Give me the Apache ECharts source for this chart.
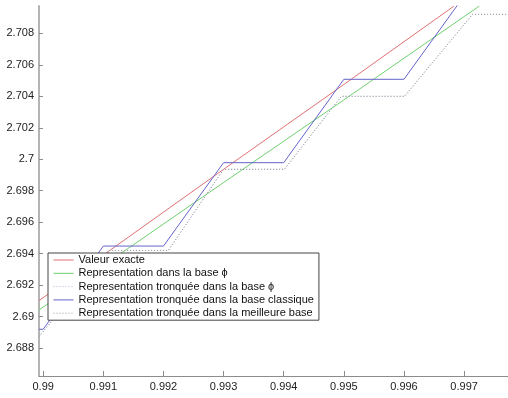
<!DOCTYPE html>
<html>
<head>
<meta charset="utf-8">
<script src="https://cdn.jsdelivr.net/npm/echarts@6/dist/echarts.min.js"></script>
<style>
  html, body { margin: 0; padding: 0; background: #fff; }
  #chart { width: 508px; height: 398px; }
</style>
</head>
<body>
<div id="chart"></div>
<script>
// Axis tick labels
const xTicks = [0.99, 0.991, 0.992, 0.993, 0.994, 0.995, 0.996, 0.997];
const yTicks = [2.688, 2.69, 2.692, 2.694, 2.696, 2.698, 2.7, 2.702, 2.704, 2.706, 2.708];

// Valeur exacte
const exactX = [0.98993, 0.991, 0.993, 0.995, 0.99683];
const exactY = [2.69101, 2.69391, 2.69936, 2.70475, 2.70973];

// Representation dans la base phi
const phiX = [0.98993, 0.993, 0.995, 0.99725];
const phiY = [2.69042, 2.69852, 2.70377, 2.70973];

// Representation tronquee dans la base phi
const phiTruncX = [0.98993, 0.9911, 0.99208, 0.993, 0.99401, 0.99496, 0.99601, 0.99714, 0.99773];
const phiTruncY = [2.68872, 2.6942, 2.6942, 2.69936, 2.69936, 2.70400, 2.70400, 2.70921, 2.70921];

// Representation tronquee dans la base classique
const classicX = [0.98993, 0.99, 0.991, 0.992, 0.993, 0.994, 0.995, 0.996, 0.997];
const classicY = [2.68919, 2.68919, 2.69448, 2.69448, 2.69978, 2.69978, 2.70508, 2.70508, 2.71038];

// Representation tronquee dans la meilleure base
const bestX = [0.98993, 0.9911, 0.99208, 0.993, 0.99401, 0.99496, 0.99601, 0.99714, 0.99773];
const bestY = [2.68872, 2.6942, 2.6942, 2.69936, 2.69936, 2.70400, 2.70400, 2.70921, 2.70921];

const names = [
  'Valeur exacte',
  'Representation dans la base \u03d5',
  'Representation tronquée dans la base \u03d5',
  'Representation tronquée dans la base classique',
  'Representation tronquée dans la meilleure base'
];

const pairs = (xs, ys) => xs.map((x, i) => [x, ys[i]]);
const FONT = 'Liberation Sans, Arial, sans-serif';

function lineSeries(name, xs, ys, color, type) {
  return {
    name: name,
    type: 'line',
    data: pairs(xs, ys),
    symbol: 'none',
    showSymbol: false,
    clip: true,
    animation: false,
    lineStyle: { color: color, width: 1, type: type },
    itemStyle: { color: color },
    emphasis: { disabled: true }
  };
}

const chart = echarts.init(document.getElementById('chart'), null, { renderer: 'canvas' });
chart.setOption({
  animation: false,
  backgroundColor: '#fff',
  grid: { left: 39, right: 0, top: 6, bottom: 22, containLabel: false },
  xAxis: {
    type: 'value',
    min: 0.98993,
    max: 0.99773,
    splitLine: { show: false },
    axisLine: { show: true, lineStyle: { color: '#8c8c8c', width: 1 } },
    axisTick: { show: true, inside: true, length: 5, customValues: xTicks, lineStyle: { color: '#8c8c8c' } },
    axisLabel: { customValues: xTicks, color: '#222', fontFamily: FONT, fontSize: 11, margin: 5 }
  },
  yAxis: {
    type: 'value',
    min: 2.68622,
    max: 2.70974,
    splitLine: { show: false },
    axisLine: { show: true, lineStyle: { color: '#b4b4b4', width: 2 } },
    axisTick: { show: true, inside: true, length: 4, customValues: yTicks, lineStyle: { color: '#8c8c8c' } },
    axisLabel: { customValues: yTicks, color: '#222', fontFamily: FONT, fontSize: 11, margin: 5 }
  },
  legend: {
    orient: 'vertical',
    left: 48,
    top: 253,
    itemWidth: 20,
    itemHeight: 11,
    itemGap: 2.3,
    padding: [1.5, 5, 1.5, 5],
    backgroundColor: '#fff',
    borderColor: '#444',
    borderWidth: 1,
    borderRadius: 0,
    selectedMode: false,
    itemStyle: { opacity: 0 },
    lineStyle: { width: 1 },
    textStyle: { fontFamily: FONT, fontSize: 11, color: '#111' },
    data: names
  },
  series: [
    lineSeries(names[0], exactX, exactY, '#e07070', 'solid'),
    lineSeries(names[1], phiX, phiY, '#6fd06f', 'solid'),
    lineSeries(names[2], phiTruncX, phiTruncY, '#b4b8e0', [1, 2]),
    lineSeries(names[3], classicX, classicY, '#6464cc', 'solid'),
    lineSeries(names[4], bestX, bestY, '#9a9a9a', [1, 2])
  ]
});
</script>
</body>
</html>
